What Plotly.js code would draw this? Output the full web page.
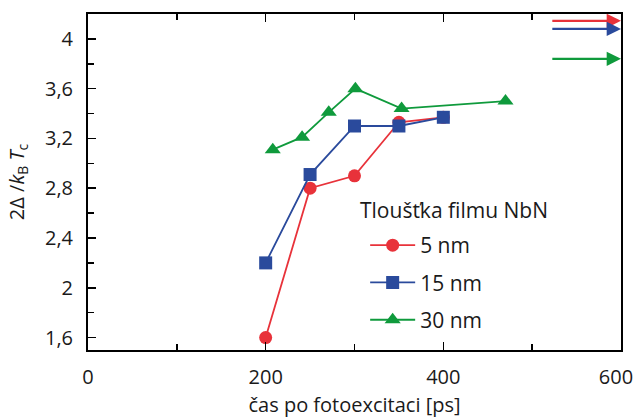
<!DOCTYPE html>
<html>
<head>
<meta charset="utf-8">
<script src="https://cdn.plot.ly/plotly-3.0.1.min.js"></script>
<style>html,body{margin:0;padding:0;background:#fff;}#chart{width:636px;height:419px;}</style>
</head>
<body>
<div id="chart"></div>
<script>
const seriesNames = ["5 nm", "15 nm", "30 nm"];
const legendTitle = "Tloušťka filmu NbN";
const x5 = [200, 250, 300, 350, 400];
const y5 = [1.6, 2.8, 2.9, 3.33, 3.37];
const x15 = [200, 250, 300, 350, 400];
const y15 = [2.2, 2.91, 3.3, 3.3, 3.37];
const x30 = [208, 241, 271, 301, 353, 470];
const y30 = [3.11, 3.21, 3.41, 3.6, 3.44, 3.5];
const arrowLevels = [4.145, 4.08, 3.84];
const arrowStartX = 521;
const arrowEndX = 600;
const xTickVals = [0, 200, 400, 600];
const xTickText = ["0", "200", "400", "600\u2002"];
const yTickVals = [1.6, 2, 2.4, 2.8, 3.2, 3.6, 4];
const yTickText = ["1,6", "2", "2,4", "2,8", "3,2", "3,6", "4"];
const colors = ["#e8323a", "#2a4a9c", "#0f9a3c"];
const symbols = ["circle", "square", "triangle-up"];
const xs = [x5, x15, x30];
const ys = [y5, y15, y30];

const font = "Open Sans, Noto Sans, sans-serif";
const txt = "#1a1a1a";

const traces = seriesNames.map((n, i) => ({
  x: xs[i], y: ys[i], name: n, type: "scatter", mode: "lines+markers",
  legendgroup: "g" + i,
  line: {color: colors[i], width: 1.8},
  marker: {color: colors[i], symbol: symbols[i], size: i === 2 ? 14 : 13, line: {width: 0}},
  cliponaxis: false
}));

const annotations = arrowLevels.map((lv, i) => ({
  x: arrowEndX, y: lv, xref: "x", yref: "y",
  ax: arrowStartX, ay: lv, axref: "x", ayref: "y",
  text: "", showarrow: true, arrowhead: 2, arrowsize: 1.3, arrowwidth: 2.2,
  arrowcolor: colors[i], standoff: 0, startstandoff: 0
}));
annotations.push({
  text: legendTitle, xref: "paper", yref: "paper",
  x: (358 - 88) / 533, y: (350 - 210) / 336, xanchor: "left", yanchor: "middle",
  showarrow: false, font: {family: font, size: 21, color: txt}
});

const layout = {
  width: 636, height: 419,
  margin: {l: 88, r: 15, t: 14, b: 69},
  paper_bgcolor: "#fff", plot_bgcolor: "#fff",
  font: {family: font, size: 20, color: txt},
  showlegend: true,
  legend: {
    x: 0.52, y: 0.372, xanchor: "left", yanchor: "top",
    bgcolor: "rgba(0,0,0,0)",
    font: {family: font, size: 21, color: txt},
    itemwidth: 45,
    tracegroupgap: 7
  },
  xaxis: {
    range: [0, 600], tickvals: xTickVals, ticktext: xTickText,
    ticks: "inside", ticklen: 8, tickwidth: 1.5, tickcolor: "#000",
    minor: {tickvals: [100, 300, 500], ticks: "inside", ticklen: 6, tickwidth: 1.5, tickcolor: "#000"},
    showline: true, linecolor: "#000", linewidth: 2, mirror: "ticks",
    showgrid: false, zeroline: false,
    ticklabelstandoff: 8, ticklabeloverflow: "allow",
    tickfont: {family: font, size: 20, color: txt},
    title: {text: "čas po fotoexcitaci [ps]", font: {family: font, size: 20, color: txt}, standoff: 9}
  },
  yaxis: {
    range: [1.5, 4.2], tickvals: yTickVals, ticktext: yTickText,
    ticks: "inside", ticklen: 8, tickwidth: 1.5, tickcolor: "#000",
    minor: {tickvals: [1.8, 2.2, 2.6, 3.0, 3.4, 3.8], ticks: "inside", ticklen: 6, tickwidth: 1.5, tickcolor: "#000"},
    showline: true, linecolor: "#000", linewidth: 2, mirror: true,
    showgrid: false, zeroline: false,
    ticklabelstandoff: 9, ticklabeloverflow: "allow",
    tickfont: {family: font, size: 20, color: txt},
    title: {text: "2Δ /<i>k</i><sub>B</sub> <i>T</i><sub>c</sub>", font: {family: font, size: 20, color: txt}, standoff: 15}
  },
  annotations: annotations
};

Plotly.newPlot("chart", traces, layout, {displayModeBar: false, staticPlot: true});
</script>
</body>
</html>
